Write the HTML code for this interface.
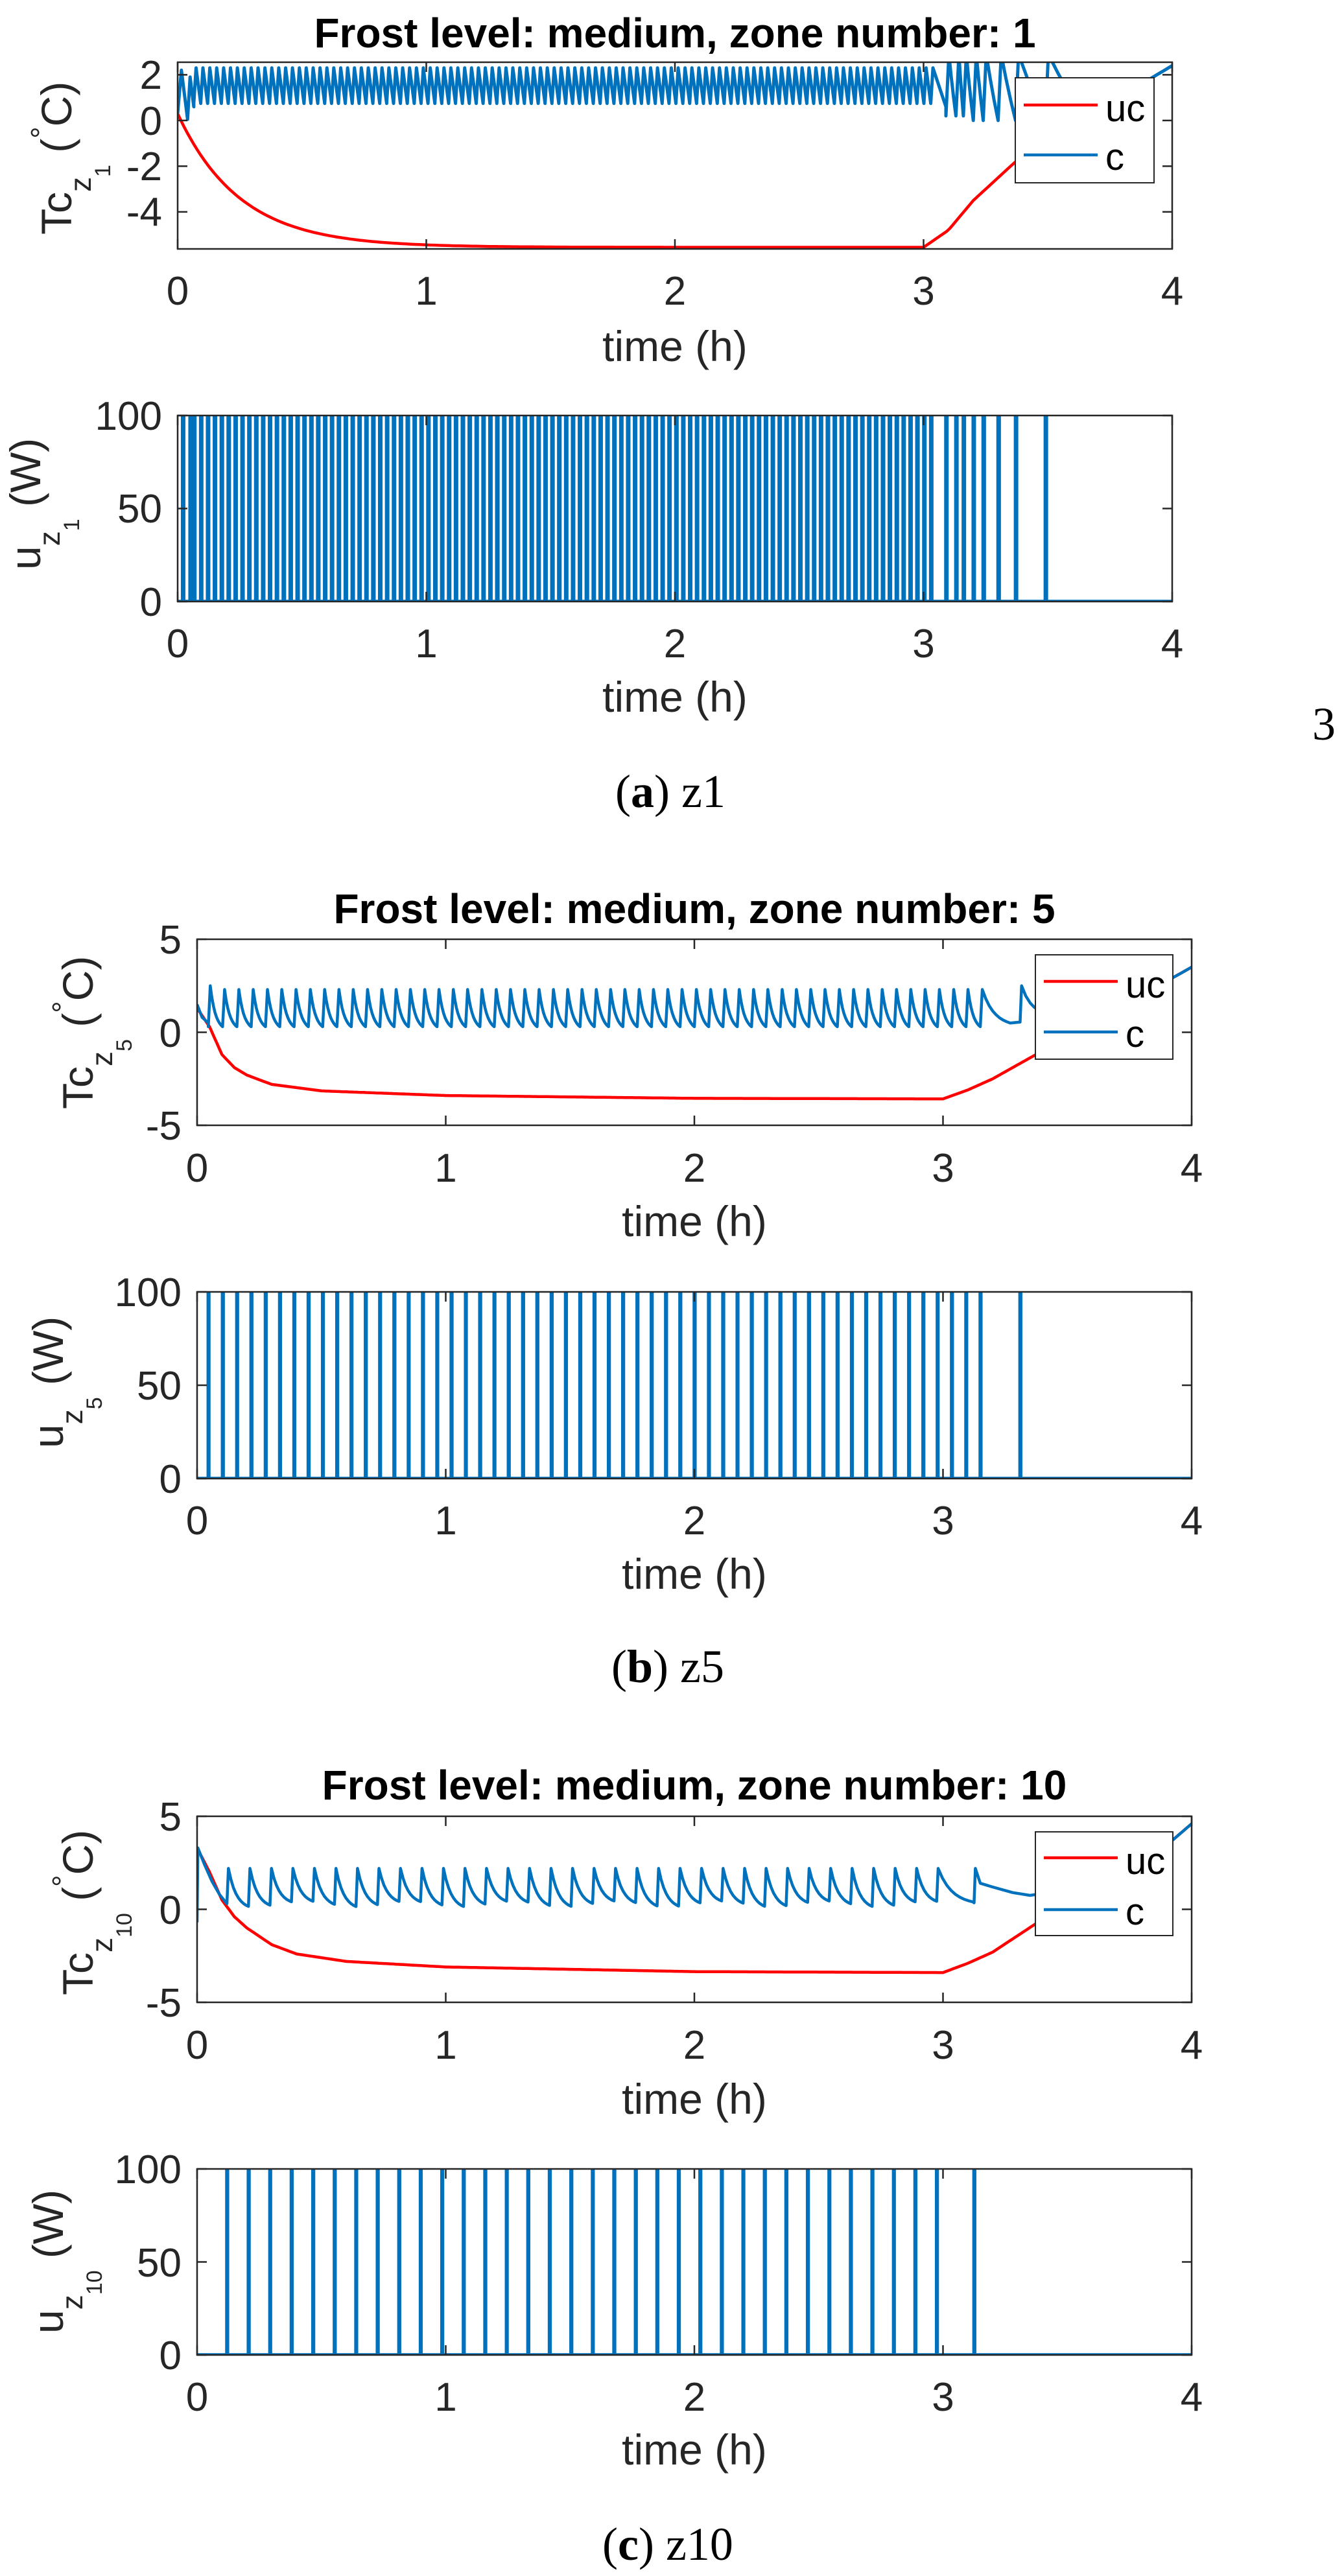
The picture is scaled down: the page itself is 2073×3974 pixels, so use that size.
<!DOCTYPE html>
<html><head><meta charset="utf-8">
<style>
html,body{margin:0;padding:0;background:#fff;}
svg{display:block;}
text{font-family:"Liberation Sans",Arial,sans-serif;}
.tk{font-size:62px;fill:#262626;}
.ttl{font-size:64px;font-weight:bold;fill:#000;}
.lab{font-size:66px;fill:#262626;}
.leg{font-size:58px;fill:#000;}
.cap{font-family:"Liberation Serif",serif;font-size:72px;fill:#000;}
</style></head>
<body>
<svg id="s" xmlns="http://www.w3.org/2000/svg" width="2073" height="3974" viewBox="0 0 2073 3974">
<rect width="2073" height="3974" fill="#fff"/>
<g id="curves"></g>

<!-- ===== Plot (a) ===== -->
<text class="ttl" x="1041" y="73" text-anchor="middle">Frost level: medium, zone number: 1</text>
<g class="tk" text-anchor="end">
<text x="250" y="137">2</text><text x="250" y="208">0</text><text x="250" y="278">-2</text><text x="250" y="348">-4</text>
</g>
<g class="tk" text-anchor="middle">
<text x="274" y="470">0</text><text x="657.5" y="470">1</text><text x="1041" y="470">2</text><text x="1424.5" y="470">3</text><text x="1808" y="470">4</text>
</g>
<text class="lab" x="1041" y="557" text-anchor="middle">time (h)</text>
<text class="lab" transform="translate(110,362) rotate(-90)">Tc<tspan font-size="46" dy="30">z</tspan><tspan font-size="34" dy="30">1</tspan><tspan font-size="66" dy="-60"> (</tspan><tspan font-size="46" dy="-30">°</tspan><tspan font-size="66" dy="30">C)</tspan></text>

<g class="tk" text-anchor="end">
<text x="250" y="663">100</text><text x="250" y="806">50</text><text x="250" y="950">0</text>
</g>
<g class="tk" text-anchor="middle">
<text x="274" y="1014">0</text><text x="657.5" y="1014">1</text><text x="1041" y="1014">2</text><text x="1424.5" y="1014">3</text><text x="1808" y="1014">4</text>
</g>
<text class="lab" x="1041" y="1098" text-anchor="middle">time (h)</text>
<text class="lab" transform="translate(62,879) rotate(-90)">u<tspan font-size="46" dy="30">z</tspan><tspan font-size="34" dy="30">1</tspan><tspan font-size="66" dy="-60"> (W)</tspan></text>

<text class="cap" x="2042" y="1141" text-anchor="middle">3</text>
<text class="cap" x="1034" y="1245" text-anchor="middle">(<tspan font-weight="bold">a</tspan>) z1</text>

<!-- ===== Plot (b) ===== -->
<text class="ttl" x="1071" y="1424" text-anchor="middle">Frost level: medium, zone number: 5</text>
<g class="tk" text-anchor="end">
<text x="280" y="1471">5</text><text x="280" y="1615">0</text><text x="280" y="1758">-5</text>
</g>
<g class="tk" text-anchor="middle">
<text x="304" y="1823">0</text><text x="687.5" y="1823">1</text><text x="1071" y="1823">2</text><text x="1454.5" y="1823">3</text><text x="1838" y="1823">4</text>
</g>
<text class="lab" x="1071" y="1907" text-anchor="middle">time (h)</text>
<text class="lab" transform="translate(143,1711) rotate(-90)">Tc<tspan font-size="46" dy="30">z</tspan><tspan font-size="34" dy="30">5</tspan><tspan font-size="66" dy="-60"> (</tspan><tspan font-size="46" dy="-30">°</tspan><tspan font-size="66" dy="30">C)</tspan></text>

<g class="tk" text-anchor="end">
<text x="280" y="2015">100</text><text x="280" y="2159">50</text><text x="280" y="2303">0</text>
</g>
<g class="tk" text-anchor="middle">
<text x="304" y="2367">0</text><text x="687.5" y="2367">1</text><text x="1071" y="2367">2</text><text x="1454.5" y="2367">3</text><text x="1838" y="2367">4</text>
</g>
<text class="lab" x="1071" y="2451" text-anchor="middle">time (h)</text>
<text class="lab" transform="translate(97,2234) rotate(-90)">u<tspan font-size="46" dy="30">z</tspan><tspan font-size="34" dy="30">5</tspan><tspan font-size="66" dy="-60"> (W)</tspan></text>

<text class="cap" x="1030" y="2595" text-anchor="middle">(<tspan font-weight="bold">b</tspan>) z5</text>

<!-- ===== Plot (c) ===== -->
<text class="ttl" x="1071" y="2776" text-anchor="middle">Frost level: medium, zone number: 10</text>
<g class="tk" text-anchor="end">
<text x="280" y="2824">5</text><text x="280" y="2968">0</text><text x="280" y="3111">-5</text>
</g>
<g class="tk" text-anchor="middle">
<text x="304" y="3176">0</text><text x="687.5" y="3176">1</text><text x="1071" y="3176">2</text><text x="1454.5" y="3176">3</text><text x="1838" y="3176">4</text>
</g>
<text class="lab" x="1071" y="3261" text-anchor="middle">time (h)</text>
<text class="lab" transform="translate(143,3078) rotate(-90)">Tc<tspan font-size="46" dy="30">z</tspan><tspan font-size="34" dy="30">10</tspan><tspan font-size="66" dy="-60"> (</tspan><tspan font-size="46" dy="-30">°</tspan><tspan font-size="66" dy="30">C)</tspan></text>

<g class="tk" text-anchor="end">
<text x="280" y="3368">100</text><text x="280" y="3512">50</text><text x="280" y="3655">0</text>
</g>
<g class="tk" text-anchor="middle">
<text x="304" y="3719">0</text><text x="687.5" y="3719">1</text><text x="1071" y="3719">2</text><text x="1454.5" y="3719">3</text><text x="1838" y="3719">4</text>
</g>
<text class="lab" x="1071" y="3802" text-anchor="middle">time (h)</text>
<text class="lab" transform="translate(97,3600) rotate(-90)">u<tspan font-size="46" dy="30">z</tspan><tspan font-size="34" dy="30">10</tspan><tspan font-size="66" dy="-60"> (W)</tspan></text>

<text class="cap" x="1030" y="3949" text-anchor="middle">(<tspan font-weight="bold">c</tspan>) z10</text>

<!-- legends -->
<g id="legends">
<rect x="1566" y="120" width="214" height="162" fill="#fff" stroke="#262626" stroke-width="2"/>
<line x1="1579" y1="162" x2="1693" y2="162" stroke="#ff0000" stroke-width="4.5"/>
<line x1="1579" y1="239" x2="1693" y2="239" stroke="#0072bd" stroke-width="4.5"/>
<text class="leg" x="1705" y="187">uc</text><text class="leg" x="1705" y="262">c</text>

<rect x="1597" y="1473" width="212" height="161" fill="#fff" stroke="#262626" stroke-width="2"/>
<line x1="1610" y1="1514" x2="1724" y2="1514" stroke="#ff0000" stroke-width="4.5"/>
<line x1="1610" y1="1592" x2="1724" y2="1592" stroke="#0072bd" stroke-width="4.5"/>
<text class="leg" x="1736" y="1539">uc</text><text class="leg" x="1736" y="1615">c</text>

<rect x="1597" y="2826" width="212" height="160" fill="#fff" stroke="#262626" stroke-width="2"/>
<line x1="1610" y1="2866" x2="1724" y2="2866" stroke="#ff0000" stroke-width="4.5"/>
<line x1="1610" y1="2946" x2="1724" y2="2946" stroke="#0072bd" stroke-width="4.5"/>
<text class="leg" x="1736" y="2891">uc</text><text class="leg" x="1736" y="2969">c</text>
</g>
</svg>
<script>
(function(){
var NS="http://www.w3.org/2000/svg";
var G=document.getElementById('curves');
var svg=document.getElementById('s');
var legends=document.getElementById('legends');
var cid=0;
function el(n,a,parent){var e=document.createElementNS(NS,n);for(var k in a)e.setAttribute(k,a[k]);(parent||G).appendChild(e);return e;}
function lerpPts(P){return function(t){if(t<=P[0][0])return P[0][1];for(var i=1;i<P.length;i++){if(t<=P[i][0]){var a=P[i-1],b=P[i];return a[1]+(b[1]-a[1])*(t-a[0])/(b[0]-a[0]);}}return P[P.length-1][1];};}
function Ax(L,R,T,B,vmin,vmax){return {L:L,R:R,T:T,B:B,X:function(t){return L+(R-L)*t/4;},Y:function(v){return B-(v-vmin)/(vmax-vmin)*(B-T);}};}
function clip(ax){cid++;var d=el('clipPath',{id:'c'+cid});el('rect',{x:ax.L,y:ax.T,width:ax.R-ax.L,height:ax.B-ax.T},d);return 'url(#c'+cid+')';}
function path(ax,pts,color,w,cp){var d='';for(var i=0;i<pts.length;i++){d+=(i?'L':'M')+ax.X(pts[i][0]).toFixed(1)+','+ax.Y(pts[i][1]).toFixed(1);}
 el('path',{d:d,fill:'none',stroke:color,'stroke-width':w,'stroke-linejoin':'round','clip-path':cp});}
function axes(ax,yt){
 var g=document.createElementNS(NS,'g');svg.insertBefore(g,legends);
 el('rect',{x:ax.L,y:ax.T,width:ax.R-ax.L,height:ax.B-ax.T,fill:'none',stroke:'#262626','stroke-width':2.5},g);
 var d='';
 for(var i=0;i<=4;i++){var x=ax.X(i);d+='M'+x+','+ax.B+'v-15M'+x+','+ax.T+'v15';}
 yt.forEach(function(v){var y=ax.Y(v);d+='M'+ax.L+','+y+'h15M'+ax.R+','+y+'h-15';});
 el('path',{d:d,stroke:'#262626','stroke-width':2.5,fill:'none'},g);
}
function sample(f,a,b,n){var r=[];for(var i=0;i<=n;i++){var t=a+(b-a)*i/n;r.push([t,f(t)]);}return r;}
function saw(pulses,d,lo,hi,k,ns,endT,endLo){
 var pts=[];
 for(var i=0;i<pulses.length;i++){
  var p=pulses[i],q=(i+1<pulses.length)?pulses[i+1]:endT;
  var L=(typeof lo==='function')?lo(i):lo, H=(typeof hi==='function')?hi(i):hi;
  var Ln=(i+1<pulses.length)?((typeof lo==='function')?lo(i+1):lo):endLo;
  pts.push([p,L]);pts.push([p+d,H]);
  var S=q-p-d;
  for(var j=1;j<=ns;j++){var s=j/ns;var g=k>0?(Math.exp(-s*k)-Math.exp(-k))/(1-Math.exp(-k)):(1-s);pts.push([p+d+S*s,Ln+(H-Ln)*g]);}
 }
 return pts;
}
function heater(ax,pulses,w,cp){
 var y0=ax.Y(0),y1=ax.Y(100);var d='M'+ax.X(0)+','+y0;
 pulses.forEach(function(p){var x=ax.X(p),x2=ax.X(p+w);d+='L'+x.toFixed(1)+','+y0+'L'+x.toFixed(1)+','+y1+'L'+x2.toFixed(1)+','+y1+'L'+x2.toFixed(1)+','+y0;});
 d+='L'+ax.X(4)+','+y0;
 el('path',{d:d,fill:'none',stroke:'#0072bd','stroke-width':5.5,'stroke-linejoin':'miter','clip-path':cp});
}
var RED='#ff0000',BLUE='#0072bd';

// ---------- Plot a ----------
(function(){
 var ax=Ax(274,1808,96,384,-5.62,2.55);var cp=clip(ax);
 var red=function(t){if(t<=3)return -5.55+5.85*Math.exp(-t/0.25);return lerpPts([[3,-5.55],[3.1,-4.8],[3.2,-3.5],[3.37,-1.8],[3.6,-0.2],[4,2.4]])(t);};
 path(ax,sample(red,0,4,300),RED,4.5,cp);
 var reg=[];for(var p=0.065;p<=3.05;p+=0.0277)reg.push(p);
 var extra=[3.09,3.13,3.16,3.20,3.24,3.30,3.37,3.49];
 var pts=[[0,0.3],[0.015,2.2],[0.04,0.05],[0.05,1.9],[0.065,0.6]];
 pts=pts.concat(saw(reg,0.009,0.75,2.3,0,1,3.09,0.6));
 pts=pts.concat(saw(extra,0.012,function(i){return i<3?0.2:0.0;},2.9,0.3,3,3.62,0.6));
 pts=pts.concat(sample(function(t){return Math.max(red(t),0.6+0.4*(t-3.62));},3.62,4,60));
 path(ax,pts,BLUE,5,cp);
 axes(ax,[-4,-2,0,2]);
 var ax2=Ax(274,1808,641,928,0,100);var cp2=clip(ax2);
 heater(ax2,[0.02,0.05].concat(reg).concat(extra),0.004,cp2);
 axes(ax2,[0,50,100]);
})();

// ---------- Plot b ----------
(function(){
 var ax=Ax(304,1838,1449,1736,-5,5);var cp=clip(ax);
 var red=lerpPts([[0,1.3],[0.05,0.3],[0.1,-1.2],[0.15,-1.9],[0.2,-2.3],[0.3,-2.8],[0.5,-3.15],[1,-3.4],[2,-3.55],[3,-3.58],[3.1,-3.1],[3.2,-2.5],[3.4,-1.0],[3.6,0.5],[4,3.5]]);
 path(ax,sample(red,0,4,400),RED,4.5,cp);
 var pb=[];for(var k=0;k<55;k++)pb.push(0.045+0.0575*k);
 var pts=[[0,1.5],[0.02,0.8],[0.045,0.5]];
 pts=pts.concat(saw(pb,0.008,0.3,function(i){return i==0?2.5:2.3;},2.3,8,3.27,0.5));
 pts.push([3.31,0.55]);
 pts=pts.concat(saw([3.31],0.006,0.55,2.5,2.5,6,3.42,1.0));
 pts=pts.concat(sample(function(t){return Math.max(red(t),1.0);},3.42,4,60));
 path(ax,pts,BLUE,4.5,cp);
 axes(ax,[-5,0,5]);
 var ax2=Ax(304,1838,1993,2281,0,100);var cp2=clip(ax2);
 heater(ax2,pb.concat([3.31]),0.002,cp2);
 axes(ax2,[0,50,100]);
})();

// ---------- Plot c ----------
(function(){
 var ax=Ax(304,1838,2802,3089,-5,5);var cp=clip(ax);
 var red=lerpPts([[0,3.3],[0.05,2.0],[0.1,0.5],[0.15,-0.4],[0.2,-1.0],[0.3,-1.9],[0.4,-2.4],[0.6,-2.8],[1,-3.1],[2,-3.35],[3,-3.4],[3.1,-2.9],[3.2,-2.3],[3.37,-0.8],[3.6,0.6],[3.8,2.3],[4,4.6]]);
 path(ax,sample(red,0,4,400),RED,4.5,cp);
 var pc=[];for(var k=0;k<34;k++)pc.push(0.12+0.0865*k);
 var pts=[[0,-0.7],[0.003,3.3],[0.03,2.4],[0.06,1.5],[0.09,0.8],[0.12,0.3]];
 pts=pts.concat(saw(pc,0.006,function(i){return 0.3-0.15*Math.sin(i*1.3);},2.2,2.5,8,3.12,0.4));
 pts=pts.concat([[3.125,0.35],[3.13,2.2],[3.15,1.4],[3.2,1.2],[3.28,0.9],[3.35,0.75],[3.4,0.85]]);
 pts=pts.concat(sample(function(t){return Math.max(red(t),0.85);},3.4,4,60));
 path(ax,pts,BLUE,4.5,cp);
 axes(ax,[-5,0,5]);
 var ax2=Ax(304,1838,3346,3633,0,100);var cp2=clip(ax2);
 heater(ax2,pc.concat([3.125]),0.002,cp2);
 axes(ax2,[0,50,100]);
})();
})();
</script>
</body></html>
